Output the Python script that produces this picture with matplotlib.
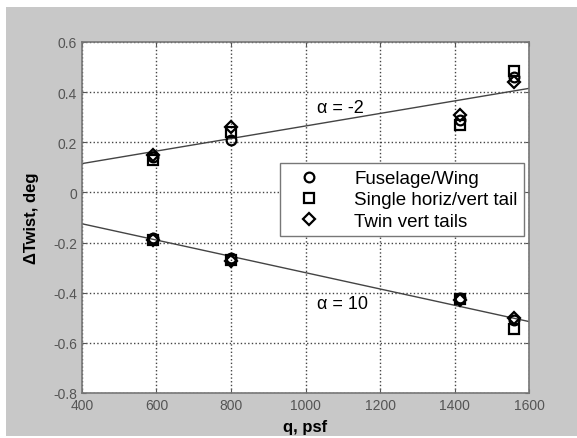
import matplotlib.pyplot as plt
from matplotlib.patches import Rectangle

plt.rcParams["font.family"] = ["Liberation Sans", "DejaVu Sans"]

# dynamic pressure, psf
q = [590, 800, 1415, 1560]

# alpha = -2 deg
fus_m2 = [0.14, 0.21, 0.29, 0.46]
single_m2 = [0.13, 0.24, 0.27, 0.485]
twin_m2 = [0.15, 0.26, 0.31, 0.44]

# alpha = 10 deg
fus_10 = [-0.18, -0.26, -0.42, -0.51]
single_10 = [-0.19, -0.27, -0.425, -0.545]
twin_10 = [-0.19, -0.275, -0.43, -0.50]

# fitted lines
fit_q = [400, 1600]
fit_m2 = [0.115, 0.415]
fit_10 = [-0.125, -0.515]

fig = plt.figure(figsize=(5.77, 4.39), dpi=100, facecolor="white")
fig.patches.append(Rectangle((6 / 577, 2 / 439), 1 - 6 / 577, 1 - 10 / 439,
                             transform=fig.transFigure, facecolor="#c8c8c8",
                             edgecolor="none", zorder=-1))
ax = fig.add_axes([82 / 577, 1 - 394 / 439, 447 / 577, 351 / 439])

ax.plot(fit_q, fit_m2, color="#444444", lw=1.0)
ax.plot(fit_q, fit_10, color="#444444", lw=1.0)

mk = dict(color="black", mfc="none", mew=1.6, ls="none")
ax.plot(q, fus_m2, marker="o", ms=7, label="Fuselage/Wing", **mk)
ax.plot(q, single_m2, marker="s", ms=6.5, label="Single horiz/vert tail", **mk)
ax.plot(q, twin_m2, marker="D", ms=6, label="Twin vert tails", **mk)
ax.plot(q, fus_10, marker="o", ms=7, **mk)
ax.plot(q, single_10, marker="s", ms=6.5, **mk)
ax.plot(q, twin_10, marker="D", ms=6, **mk)

ax.text(1030, 0.34, "\u03b1 = -2", fontsize=13, va="center")
ax.text(1030, -0.445, "\u03b1 = 10", fontsize=13, va="center")

ax.set_xlim(400, 1600)
ax.set_ylim(-0.8, 0.6)
ax.set_xticks(range(400, 1601, 200))
ax.set_yticks([-0.8, -0.6, -0.4, -0.2, 0, 0.2, 0.4, 0.6])
ax.set_yticklabels(["-0.8", "-0.6", "-0.4", "-0.2", "0", "0.2", "0.4", "0.6"])
ax.tick_params(direction="in", labelsize=10, labelcolor="#555555", colors="#555555",
               top=True, right=True, length=3)
ax.grid(True, ls=":", color="#444444", lw=1.0)
for s in ax.spines.values():
    s.set_color("#777777")
    s.set_linewidth(1.2)

ax.set_xlabel("q, psf", fontsize=12, fontweight="bold", labelpad=5)
ax.set_ylabel("\u0394Twist, deg", fontsize=12, fontweight="bold", labelpad=10)

leg = ax.legend(loc="upper left", bbox_to_anchor=(0.443, 0.654), fontsize=13.5,
                fancybox=False, framealpha=1, edgecolor="#777777",
                borderpad=0.35, labelspacing=0.22, handletextpad=1.2,
                handlelength=2.4, borderaxespad=0)
leg.get_frame().set_linewidth(1.0)

fig.savefig("out.png", dpi=100, facecolor=fig.get_facecolor())
